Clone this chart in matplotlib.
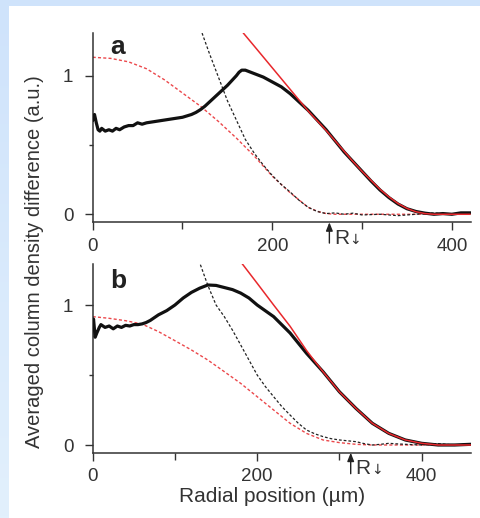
import numpy as np
import matplotlib
matplotlib.use("Agg")
import matplotlib.pyplot as plt
from matplotlib.patches import Rectangle
from matplotlib.colors import LinearSegmentedColormap

plt.rcParams['font.family'] = ['Liberation Sans', 'DejaVu Sans']

# ---------------- data: panel a ----------------
xa_data = [0, 2, 4, 6, 8, 10, 14, 18, 22, 26, 30, 35, 40, 45, 50, 55, 60, 70, 80, 90,
           100, 110, 115, 120, 125, 130, 135, 140, 145, 150, 155, 160, 163, 166, 170, 180,
           190, 200, 210, 220, 230, 240, 250, 260, 270, 280, 290, 300, 310, 320, 330, 340,
           350, 360, 370, 380, 390, 400, 410, 420]
ya_data = [0.68, 0.72, 0.66, 0.61, 0.60, 0.62, 0.60, 0.61, 0.60, 0.62, 0.61, 0.63, 0.64,
           0.64, 0.66, 0.65, 0.66, 0.67, 0.68, 0.69, 0.70, 0.72, 0.735, 0.755, 0.78, 0.81,
           0.84, 0.87, 0.90, 0.93, 0.965, 1.0, 1.025, 1.04, 1.04, 1.015, 0.99, 0.955, 0.92,
           0.87, 0.81, 0.75, 0.68, 0.61, 0.53, 0.45, 0.38, 0.31, 0.24, 0.175, 0.12, 0.074,
           0.04, 0.02, 0.008, 0.0, 0.005, 0.0, 0.01, 0.01]

xa_fit = [168, 180, 200, 220, 240, 250, 260, 270, 280, 290, 300, 310, 320, 330, 340, 350,
          360, 370, 380, 400, 420]
ya_fit = [1.306, 1.213, 1.057, 0.901, 0.745, 0.675, 0.605, 0.53, 0.455, 0.38, 0.31, 0.245,
          0.18, 0.125, 0.078, 0.042, 0.018, 0.005, 0.0, 0.0, 0.0]

xa_rdash = [0, 20, 40, 60, 80, 100, 120, 140, 160, 180, 200, 220, 240, 250, 260, 270, 280,
            300, 340, 380, 420]
ya_rdash = [1.133, 1.125, 1.10, 1.05, 0.97, 0.875, 0.78, 0.67, 0.55, 0.42, 0.275, 0.155,
            0.05, 0.022, 0.005, 0.0, 0.0, 0.0, 0.0, 0.0, 0.0]

xa_kdash = [120, 130, 140, 150, 160, 170, 180, 190, 200, 210, 220, 230, 240, 250, 260, 270,
            280, 290, 300, 320, 340, 360, 380, 400, 420]
ya_kdash = [1.34, 1.16, 0.99, 0.82, 0.68, 0.54, 0.44, 0.355, 0.28, 0.215, 0.16, 0.10, 0.05,
            0.02, 0.005, 0.01, 0.0, 0.008, -0.005, 0.0, -0.01, 0.0, 0.01, 0.0, 0.01]

# ---------------- data: panel b ----------------
xb_data = [0, 1, 3, 5, 8, 10, 15, 20, 25, 30, 35, 40, 45, 50, 55, 60, 65, 70, 75, 80, 90,
           100, 110, 120, 130, 140, 150, 160, 170, 180, 190, 200, 220, 240, 260, 280, 300,
           320, 340, 360, 380, 400, 420, 440, 460]
yb_data = [0.86, 0.90, 0.77, 0.80, 0.84, 0.86, 0.84, 0.85, 0.83, 0.85, 0.84, 0.855, 0.85,
           0.86, 0.86, 0.865, 0.875, 0.89, 0.91, 0.93, 0.96, 1.00, 1.05, 1.09, 1.12, 1.143,
           1.14, 1.125, 1.11, 1.085, 1.05, 1.0, 0.917, 0.80, 0.655, 0.524, 0.38, 0.262,
           0.155, 0.083, 0.036, 0.012, 0.0, 0.0, 0.005]

xb_fit = [182, 200, 220, 240, 260, 270, 280, 300, 320, 340, 360, 380, 400, 420, 440, 460]
yb_fit = [1.293, 1.155, 1.0, 0.848, 0.675, 0.598, 0.524, 0.38, 0.262, 0.155, 0.083, 0.036,
          0.012, 0.0, 0.0, 0.0]

xb_rdash = [0, 20, 40, 60, 80, 100, 120, 140, 160, 180, 200, 220, 240, 260, 280, 300, 320,
            340, 380, 420, 460]
yb_rdash = [0.917, 0.905, 0.888, 0.864, 0.81, 0.745, 0.679, 0.607, 0.524, 0.44, 0.345, 0.25,
            0.155, 0.083, 0.036, 0.017, 0.005, 0.0, 0.0, 0.0, 0.0]

xb_kdash = [129, 140, 150, 160, 170, 180, 190, 200, 210, 220, 230, 240, 250, 260, 270, 280,
            290, 300, 310, 320, 330, 340, 350, 360, 370, 380, 400, 420, 440, 460]
yb_kdash = [1.32, 1.14, 1.0, 0.917, 0.82, 0.714, 0.607, 0.50, 0.417, 0.345, 0.274, 0.214,
            0.155, 0.107, 0.08, 0.06, 0.045, 0.036, 0.03, 0.024, 0.01, 0.0, 0.005, 0.012,
            0.008, 0.005, 0.0, 0.01, 0.0, 0.01]

panel_labels = ['a', 'b']
xlims = [(0, 421), (0, 459.6)]
ylims = [(-0.058, 1.306), (-0.055, 1.293)]
r_positions = [263.6, 313.7]
xticks_major = [0, 200, 400]
xticks_minor = [100, 300]
yticks_major = [0, 1]
yticks_minor = [0.5]

W, H = 481, 518
fig = plt.figure(figsize=(W / 100, H / 100), dpi=100, facecolor='white')

# light-blue frame (top band + left band with gradient)
fig.patches.append(Rectangle((0, 1 - 6 / H), 1, 6 / H, transform=fig.transFigure,
                             facecolor='#cfe3fb', edgecolor='none', zorder=0))
bax = fig.add_axes([0, 0, 9 / W, 1 - 6 / H], zorder=0)
grad = np.linspace(0, 1, 256).reshape(-1, 1)
cm = LinearSegmentedColormap.from_list('bg', ['#cfe3fb', '#e2f0fd'])
bax.imshow(grad, aspect='auto', cmap=cm, extent=(0, 1, 1, 0))
bax.axis('off')

txtc = '#333333'
red = '#e8282c'

positions = [
    [92.7 / W, 1 - 222.3 / H, 378 / W, 189 / H],
    [92.7 / W, 1 - 452.7 / H, 378 / W, 188.7 / H],
]

data = [
    (xa_data, ya_data, xa_fit, ya_fit, xa_rdash, ya_rdash, xa_kdash, ya_kdash),
    (xb_data, yb_data, xb_fit, yb_fit, xb_rdash, yb_rdash, xb_kdash, yb_kdash),
]

for i, pos in enumerate(positions):
    ax = fig.add_axes(pos)
    xd, yd, xf, yf, xr, yr, xk, yk = data[i]
    ax.plot(xr, yr, color=red, lw=1.0, ls=(0, (2.2, 1.6)), alpha=0.85, zorder=2)
    ax.plot(xk, yk, color='#222222', lw=0.9, ls=(0, (2.2, 1.6)), zorder=2)
    ax.plot(xd, yd, color='#111111', lw=2.3, zorder=3, solid_joinstyle='round')
    ax.plot(xf, yf, color=red, lw=1.1, zorder=4)
    ax.set_xlim(*xlims[i])
    ax.set_ylim(*ylims[i])
    for s in ['top', 'right']:
        ax.spines[s].set_visible(False)
    for s in ['left', 'bottom']:
        ax.spines[s].set_color(txtc)
        ax.spines[s].set_linewidth(1.1)
    ax.set_xticks(xticks_major)
    ax.set_xticks(xticks_minor, minor=True)
    ax.set_yticks(yticks_major)
    ax.set_yticks(yticks_minor, minor=True)
    ax.tick_params(axis='both', which='major', direction='out', length=6, width=1.0,
                   color=txtc, labelcolor=txtc, labelsize=13.5)
    ax.tick_params(axis='x', which='major', pad=5)
    ax.tick_params(axis='y', which='major', pad=8)
    ax.tick_params(axis='x', which='minor', direction='out', length=5, width=1.0, color=txtc)
    ax.tick_params(axis='y', which='minor', direction='out', length=3, width=1.0, color=txtc)
    ax.patch.set_alpha(0)
    ax.text(0.046, 0.89 if i == 0 else 0.875, panel_labels[i], transform=ax.transAxes,
            fontsize=19, fontweight='bold', color='#222222', va='baseline', ha='left')
    # R arrow
    ax.annotate('', xy=(r_positions[i], ylims[i][0]), xycoords='data',
                xytext=(r_positions[i], ylims[i][0] - 0.15), textcoords='data',
                arrowprops=dict(arrowstyle='-|>,head_length=0.5,head_width=0.2',
                                color='#222222', lw=1.0, shrinkA=0, shrinkB=0),
                annotation_clip=False)
    sc = 378 / (xlims[i][1] - xlims[i][0])
    ax.text(r_positions[i] + 5 / sc, ylims[i][0] - 0.155, 'R', fontsize=15, color=txtc,
            va='baseline', ha='left', clip_on=False)
    ax.text(r_positions[i] + 20 / sc, ylims[i][0] - 0.155, '↓', fontsize=10, color=txtc,
            va='baseline', ha='left', clip_on=False, family=['DejaVu Sans'])

fig.text(35 / W, 1 - 262 / H, 'Averaged column density difference (a.u.)',
         rotation=90, ha='center', va='center', fontsize=14.5, color=txtc)
fig.text(272 / W, 1 - 497 / H, 'Radial position (µm)', ha='center', va='center',
         fontsize=15, color=txtc)

fig.savefig('out.png', dpi=100, facecolor='white')
